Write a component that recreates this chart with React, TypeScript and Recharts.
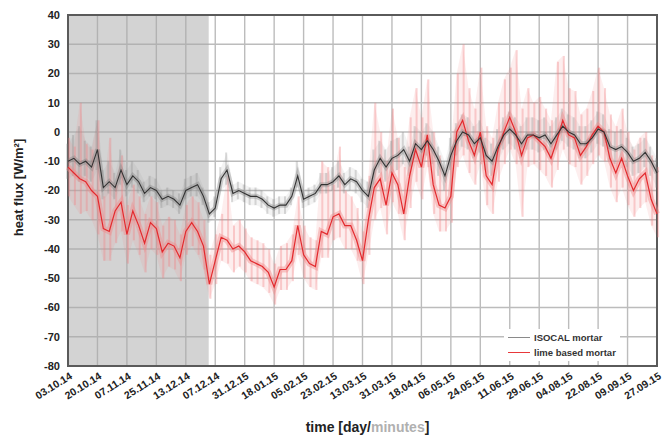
import {
  ComposedChart,
  Line,
  Area,
  Bar,
  XAxis,
  YAxis,
  CartesianGrid,
  ReferenceArea,
  Legend,
  Label,
} from 'recharts';

// x tick labels, one every 18 days (as printed on the original)
const dateLabels = [
  '03.10.14', '20.10.14', '07.11.14', '25.11.14', '13.12.14', '07.12.14',
  '31.12.15', '18.01.15', '05.02.15', '23.02.15', '13.03.15', '31.03.15',
  '18.04.15', '06.05.15', '24.05.15', '11.06.15', '29.06.15', '04.08.15',
  '22.08.15', '09.09.15', '27.09.15',
];
const yTicks = [-80, -70, -60, -50, -40, -30, -20, -10, 0, 10, 20, 30, 40];

// sampling step in days
const stepDays = 3.6;
const shadedUntilDay = 86;

// ISOCAL mortar (daily mean) and the spread of the raw minute values
const isocal = [
  -10, -9, -11, -10, -12, -6, -19, -17, -19, -13,
  -18, -15, -17, -21, -19, -20, -23, -22, -23, -25,
  -20, -19, -18, -22, -28, -26, -16, -13, -21, -20,
  -21, -22, -22, -23, -25, -26, -25, -25, -22, -15,
  -23, -22, -21, -18, -18, -17, -15, -18, -16, -17,
  -20, -22, -13, -9, -12, -9, -8, -6, -10, -4,
  -6, -3, -6, -10, -15, -8, -3, 0, -1, -4,
  -2, -8, -10, -5, -1, 1, -1, -4, -1, -1,
  -2, -1, -4, -1, 2, 0, -1, -4, -4, -2,
  1, 0, -5, -6, -5, -7, -10, -9, -7, -10,
  -14,
];
const isocalHi = [
  -4, -1, 2, -3, -5, 4, -13, -10, -14, -6,
  -13, -10, -13, -17, -15, -16, -20, -19, -20, -21,
  -16, -15, -14, -19, -24, -22, -12, -7, -18, -17,
  -18, -19, -19, -20, -22, -23, -22, -22, -19, -10,
  -20, -19, -18, -14, -14, -12, -10, -14, -12, -13,
  -16, -17, -6, -3, -6, -3, -2, 0, -5, 2,
  0, 3, 0, -5, -10, -2, 3, 6, 5, 2,
  4, -2, -4, 1, 5, 7, 5, 2, 5, 5,
  4, 5, 2, 5, 8, 6, 5, 2, 2, 4,
  7, 6, 1, 0, 1, -2, -5, -4, -2, -5,
  -9,
];
const isocalLo = [
  -16, -15, -17, -15, -17, -13, -23, -21, -23, -18,
  -22, -19, -21, -24, -22, -23, -26, -25, -26, -28,
  -23, -22, -22, -25, -31, -29, -20, -18, -24, -23,
  -24, -25, -25, -26, -28, -29, -28, -28, -25, -19,
  -26, -25, -24, -21, -21, -20, -19, -21, -20, -21,
  -24, -26, -18, -14, -17, -14, -13, -11, -15, -9,
  -11, -8, -11, -15, -20, -13, -8, -5, -6, -9,
  -7, -13, -15, -10, -6, -4, -6, -9, -6, -6,
  -7, -6, -9, -6, -3, -5, -6, -9, -9, -7,
  -4, -5, -10, -11, -10, -12, -15, -14, -12, -15,
  -19,
];

// lime based mortar (daily mean) and the spread of the raw minute values
const lime = [
  -12, -14, -16, -17, -20, -22, -33, -34, -27, -24,
  -35, -27, -32, -38, -31, -33, -41, -38, -39, -43,
  -34, -31, -34, -39, -52, -44, -36, -37, -40, -39,
  -41, -44, -45, -46, -48, -53, -47, -47, -44, -32,
  -42, -45, -46, -34, -35, -29, -28, -32, -32, -37,
  -44, -30, -19, -16, -25, -14, -18, -28, -15, -6,
  -12, -1, -18, -25, -26, -22, 0, 4, -3, -8,
  0, -15, -18, -6, 0, 5, 0, -8, -2, -1,
  -3, -5, -9, -3, 4, -1, -2, -8, -5, -1,
  2, 0, -9, -14, -9, -15, -20, -16, -14, -23,
  -28,
];
const limeHi = [
  -2, -5, 10, -4, -6, 4, -22, -2, -18, -8,
  -25, -18, -22, -28, -22, -24, -32, -29, -30, -35,
  -25, -22, -24, -30, -42, -35, -28, -15, -32, -30,
  -33, -36, -37, -38, -40, -45, -39, -38, -35, -22,
  -32, -36, -37, -10, -12, -18, -5, -20, -22, -26,
  -34, -15, 10, 0, -10, 8, -2, -12, 5, 15,
  5, 18, 0, -8, -14, -5, 20, 30, 15, 8,
  22, 2, -2, 10, 18, 22, 28, 8, 15, 10,
  12, 8, 4, 24, 26, 15, 14, 6, 8, 14,
  22, 15, 6, 2, 8, 0, -6, -2, 0, -8,
  -12,
];
const limeLo = [
  -22, -25, -28, -27, -30, -35, -44, -44, -38, -34,
  -45, -37, -42, -48, -40, -42, -50, -46, -47, -51,
  -42, -39, -42, -47, -57, -52, -44, -45, -48, -46,
  -48, -51, -52, -53, -55, -59, -54, -54, -51, -42,
  -50, -53, -54, -43, -43, -37, -36, -40, -40, -44,
  -52, -42, -30, -26, -35, -24, -28, -37, -26, -17,
  -23, -12, -28, -34, -34, -31, -12, -8, -14, -18,
  -11, -25, -28, -17, -11, -6, -11, -29, -12, -11,
  -13, -15, -19, -13, -6, -11, -12, -18, -15, -11,
  -8, -10, -19, -24, -19, -25, -29, -26, -24, -32,
  -36,
];

const data = isocal.map((v, i) => ({
  day: i * stepDays,
  isocal: v,
  isocalBand: [isocalLo[i], isocalHi[i]],
  lime: lime[i],
  limeBand: [limeLo[i], limeHi[i]],
}));

const xTicks = dateLabels.map((_, k) => k * 18);

const font = '"Liberation Sans", Arial, sans-serif';

function DateTick({ x, y, payload }: any) {
  const label = dateLabels[Math.round(payload.value / 18)];
  return (
    <g transform={`translate(${x},${y})`}>
      <text
        x={0}
        y={0}
        dy={6}
        dx={2}
        textAnchor="end"
        transform="rotate(-32)"
        fontFamily={font}
        fontWeight="bold"
        fontSize={10.5}
        fill="#222"
      >
        {label}
      </text>
    </g>
  );
}

function XTitle({ viewBox }: any) {
  const cx = viewBox.x + viewBox.width / 2 + 5;
  return (
    <text
      x={cx}
      y={viewBox.y + 66}
      textAnchor="middle"
      fontFamily={font}
      fontWeight="bold"
      fontSize={14}
      fill="#222"
    >
      time [day/<tspan fill="#b0b0b0">minutes</tspan>]
    </text>
  );
}

function YTitle({ viewBox }: any) {
  const cy = viewBox.y + viewBox.height / 2 - 3;
  return (
    <text
      x={18}
      y={cy}
      transform={`rotate(-90, 18, ${cy})`}
      textAnchor="middle"
      dominantBaseline="central"
      fontFamily={font}
      fontWeight="bold"
      fontSize={13}
      fill="#222"
    >
      heat flux [W/m²]
    </text>
  );
}

function LegendBox() {
  const items = [
    { name: 'ISOCAL mortar', color: '#8a8a8a' },
    { name: 'lime based mortar', color: '#e8383a' },
  ];
  return (
    <div style={{ background: '#fff', padding: '1px 4px' }}>
      {items.map(it => (
        <div
          key={it.name}
          style={{ display: 'flex', alignItems: 'center', height: 15 }}
        >
          <span
            style={{
              display: 'inline-block',
              width: 22,
              height: 1,
              background: it.color,
              marginRight: 4,
            }}
          />
          <span
            style={{
              fontFamily: font,
              fontWeight: 'bold',
              fontSize: 9.5,
              color: '#333',
            }}
          >
            {it.name}
          </span>
        </div>
      ))}
    </div>
  );
}

export default function App() {
  return (
    <div style={{ position: 'absolute', left: 0, top: 0 }}>
      <ComposedChart
        width={663}
        height={438}
        data={data}
        margin={{ top: 15, right: 6, bottom: 0, left: 0 }}
      >
        <CartesianGrid stroke="#bcbcbc" strokeWidth={1.4} />
        <ReferenceArea
          x1={0}
          x2={shadedUntilDay}
          y1={-80}
          y2={40}
          fill="#a8a8a8"
          fillOpacity={0.5}
          stroke="none"
        />
        <XAxis
          dataKey="day"
          type="number"
          domain={[0, 360]}
          ticks={xTicks}
          interval={0}
          height={72}
          tick={<DateTick />}
          tickLine={false}
          axisLine={false}
        >
          <Label content={<XTitle />} />
        </XAxis>
        <YAxis
          type="number"
          domain={[-80, 40]}
          ticks={yTicks}
          interval={0}
          width={68}
          tickLine={false}
          axisLine={false}
          tick={{
            fontFamily: font,
            fontWeight: 'bold',
            fontSize: 11,
            fill: '#222',
          }}
        >
          <Label content={<YTitle />} />
        </YAxis>
        {/* faint envelope of the minute values */}
        <Area
          dataKey="isocalBand"
          stroke="none"
          fill="#8c8c8c"
          fillOpacity={0.1}
          isAnimationActive={false}
          legendType="none"
        />
        <Area
          dataKey="limeBand"
          stroke="none"
          fill="#f28a8a"
          fillOpacity={0.14}
          isAnimationActive={false}
          legendType="none"
        />
        {/* thin strands for the minute spread */}
        <Bar
          dataKey="isocalBand"
          barSize={2}
          fill="#8c8c8c"
          fillOpacity={0.3}
          isAnimationActive={false}
          legendType="none"
        />
        <Bar
          dataKey="limeBand"
          barSize={2}
          fill="#f07f80"
          fillOpacity={0.35}
          isAnimationActive={false}
          legendType="none"
        />
        {/* soft halo around the daily means */}
        <Line
          dataKey="lime"
          stroke="#ef8c8c"
          strokeOpacity={0.45}
          strokeWidth={6}
          dot={false}
          isAnimationActive={false}
          legendType="none"
        />
        <Line
          dataKey="isocal"
          stroke="#7a7a7a"
          strokeOpacity={0.35}
          strokeWidth={5}
          dot={false}
          isAnimationActive={false}
          legendType="none"
        />
        <Line
          dataKey="lime"
          stroke="#e32a2e"
          strokeWidth={1.2}
          dot={false}
          isAnimationActive={false}
        />
        <Line
          dataKey="isocal"
          stroke="#333"
          strokeWidth={1.1}
          dot={false}
          isAnimationActive={false}
        />
        <ReferenceArea
          x1={0}
          x2={360}
          y1={-80}
          y2={40}
          fill="none"
          stroke="#5a5a5a"
          strokeWidth={2}
        />
        <Legend
          layout="vertical"
          align="center"
          verticalAlign="middle"
          content={<LegendBox />}
          wrapperStyle={{ left: 504, top: 329, width: 'auto' }}
        />
      </ComposedChart>
    </div>
  );
}
